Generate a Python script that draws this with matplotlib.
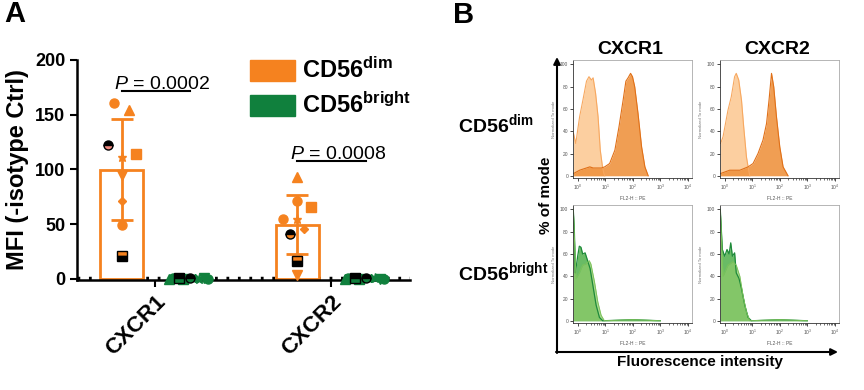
import numpy as np
import matplotlib
matplotlib.use("Agg")
import matplotlib.pyplot as plt
from matplotlib.patches import Patch

plt.rcParams['font.family'] = ['Liberation Sans', 'DejaVu Sans']
plt.rcParams['mathtext.fontset'] = 'custom'
plt.rcParams['mathtext.rm'] = 'Liberation Sans'
plt.rcParams['mathtext.bf'] = 'Liberation Sans:bold'
plt.rcParams['mathtext.it'] = 'Liberation Sans:italic'

# ── Panel A data (MFI minus isotype, one value per donor) ─────────────────────
receptors   = ['CXCR1', 'CXCR2']
dim_cxcr1   = [161, 154, 122, 114, 111, 95, 71, 49, 21]
dim_cxcr2   = [55, 93, 41, 66, 55, 4, 46, 71, 16]
brt_cxcr1   = [0.5, 0.2, 0.8, 0.3, 0.1, 0.4, 0.6, 0.2, 0.9]
brt_cxcr2   = [0.4, 0.3, 0.6, 0.2, 0.5, 0.1, 0.7, 0.3, 0.5]
p_values    = ['0.0002', '0.0008']
p_heights   = [172, 108]

# ── Panel B data (histograms, x in decades, y in % of mode) ───────────────────
dim1_iso_x = [-0.15, -0.07, 0.07, 0.19, 0.32, 0.41, 0.5, 0.56, 0.65, 0.74, 0.82, 0.9, 0.95, 0.98]
dim1_iso_y = [38, 29, 53, 68, 85, 89, 86, 88, 74, 53, 23, 8, 2, 0]
dim1_ab_x  = [-0.15, 0.07, 0.44, 0.56, 0.86, 0.98, 1.16, 1.35, 1.5, 1.65, 1.75, 1.83, 1.92, 1.99, 2.07, 2.19, 2.32, 2.44, 2.56]
dim1_ab_y  = [2, 5, 8, 7, 7, 8, 11, 23, 44, 68, 85, 88, 92, 89, 80, 56, 26, 8, 0]
dim2_iso_x = [-0.15, -0.06, 0.12, 0.24, 0.36, 0.42, 0.51, 0.61, 0.69, 0.79, 0.85, 0.91]
dim2_iso_y = [29, 35, 59, 71, 89, 92, 86, 68, 44, 17, 8, 0]
dim2_ab_x  = [-0.15, 0.18, 0.55, 0.85, 1.03, 1.21, 1.39, 1.52, 1.61, 1.7, 1.78, 1.88, 2.0, 2.12, 2.3]
dim2_ab_y  = [2, 5, 5, 8, 11, 20, 32, 47, 68, 92, 80, 53, 26, 8, 0]
brt1_iso_x = [-0.16, -0.06, 0.06, 0.18, 0.3, 0.42, 0.48, 0.61, 0.73, 0.85, 0.97, 2.0, 3.0]
brt1_iso_y = [100, 38, 43, 50, 51, 54, 51, 35, 17, 5, 0, 1, 0]
brt1_ab_x  = [-0.16, -0.12, -0.085, 0.0, 0.06, 0.12, 0.18, 0.27, 0.36, 0.45, 0.55, 0.67, 0.79, 0.91, 2.0, 3.0]
brt1_ab_y  = [100, 80, 43, 58, 67, 66, 60, 61, 54, 47, 32, 14, 3, 0, 1, 0]
brt2_iso_x = [-0.16, -0.06, 0.12, 0.3, 0.42, 0.55, 0.67, 0.79, 0.91, 2.0, 3.0]
brt2_iso_y = [100, 40, 50, 53, 50, 40, 22, 8, 0, 1, 0]
brt2_ab_x  = [-0.16, -0.085, 0.0, 0.085, 0.16, 0.22, 0.28, 0.36, 0.42, 0.52, 0.61, 0.73, 0.85, 0.97, 2.0, 3.0]
brt2_ab_y  = [100, 64, 58, 64, 60, 70, 58, 61, 43, 38, 29, 14, 3, 0, 1, 0]

orange = '#F5821F'
green  = '#10803D'

fig = plt.figure(figsize=(8.64, 3.9), dpi=100)

# ── Panel A ───────────────────────────────────────────────────────────────────
ax = fig.add_axes([77/864, 1 - 280/390, 333/864, 220/390])
x = np.arange(len(receptors))
dim_sets = [dim_cxcr1, dim_cxcr2]
brt_sets = [brt_cxcr1, brt_cxcr2]
dim_mean = [np.mean(v) for v in dim_sets]
dim_sd   = [np.std(v, ddof=1) for v in dim_sets]
brt_mean = [np.mean(v) for v in brt_sets]
off_dim, off_brt = -0.19, 0.2

ax.bar(x + off_dim, dim_mean, width=0.245, facecolor='white', edgecolor=orange, lw=2, zorder=2)
ax.bar(x + off_brt, brt_mean, width=0.18, facecolor='white', edgecolor=green, lw=2, zorder=2)
ax.errorbar(x + off_dim, dim_mean, yerr=dim_sd, fmt='none', ecolor=orange,
            elinewidth=2, capsize=8, capthick=2, zorder=3)

# donor markers: (marker, fillstyle)
donors = [('o', 'full'), ('^', 'full'), ('o', 'top'), ('s', 'full'), ('*', 'full'),
          ('v', 'full'), ('D', 'full'), ('o', 'full'), ('s', 'top')]
jit_dim = [[-0.04, 0.04, -0.075, 0.08, 0, 0, 0, 0, 0],
           [-0.08, 0, -0.04, 0.075, 0, 0, 0.035, 0, 0]]
jit_brt = [-0.1, -0.12, 0.0, -0.04, 0.05, 0.08, 0.03, 0.1, -0.065]
for i in range(len(receptors)):
    for j, (m, fs) in enumerate(donors):
        ms = 4.5 if m == 'D' else 6.5
        if fs == 'top':
            if m == 'o':
                kw = dict(markerfacecolor='black', markerfacecoloralt=orange if i else '#F08A80')
            else:
                kw = dict(markerfacecolor=orange, markerfacecoloralt='black')
            ax.plot(x[i] + off_dim + jit_dim[i][j], dim_sets[i][j], marker=m, ms=ms,
                    fillstyle='top', markeredgecolor='black', mew=1, zorder=4, **kw)
            ax.plot(x[i] + off_brt + jit_brt[j], brt_sets[i][j], marker=m, ms=ms,
                    fillstyle='top', markerfacecolor='black', markerfacecoloralt=green,
                    markeredgecolor='black', mew=1, zorder=5, clip_on=False)
        else:
            ax.plot(x[i] + off_dim + jit_dim[i][j], dim_sets[i][j], marker=m, ms=ms,
                    color=orange, mec=orange, zorder=4)
            ax.plot(x[i] + off_brt + jit_brt[j], brt_sets[i][j], marker=m, ms=ms,
                    color=green, mec=green, zorder=4, clip_on=False)

for i in range(len(receptors)):
    ax.plot([x[i] + off_dim, x[i] + off_brt], [p_heights[i]] * 2, color='black', lw=1.5)
    ax.text(x[i] + off_dim - 0.045, p_heights[i] + 1.5, r'$\mathit{P}$ = ' + p_values[i],
            fontsize=14, ha='left', va='baseline')

ax.plot(np.linspace(-0.443, 1.45, 2), [1.2, 1.2], color='black', ls=(0, (0.8, 2.5)), lw=2.5, zorder=1)
ax.set_xlim(-0.443, 1.45)
ax.set_ylim(-1, 200)
ax.set_yticks([0, 50, 100, 150, 200])
ax.set_xticks(x)
ax.set_xticklabels(receptors, rotation=45, ha='right', rotation_mode='anchor',
                   fontsize=16, fontweight='bold')
for t in ax.get_yticklabels():
    t.set_fontweight('bold'); t.set_fontsize(13)
ax.tick_params(length=5, width=1.5)
ax.set_ylabel('MFI (-isotype Ctrl)', fontsize=17, fontweight='bold', labelpad=4)
for s in ['top', 'right']:
    ax.spines[s].set_visible(False)
for s in ['left', 'bottom']:
    ax.spines[s].set_linewidth(1.8)

handles = [Patch(facecolor=orange, edgecolor=orange), Patch(facecolor=green, edgecolor=green)]
ax.legend(handles, [r'CD56$^{\mathbf{dim}}$', r'CD56$^{\mathbf{bright}}$'],
          loc='upper left', bbox_to_anchor=(0.52, 1.01), frameon=False,
          prop=dict(size=17, weight='bold'), handlelength=1.9, handleheight=1.0,
          handletextpad=0.3, labelspacing=0.38, borderpad=0, borderaxespad=0)

fig.text(4/864, 1 - 14/390, 'A', fontsize=21, fontweight='bold', va='center')

# ── Panel B ───────────────────────────────────────────────────────────────────
light_or, dark_or = '#FCCFA0', '#EF9440'
hists = [
    (573, 60, dim1_iso_x, dim1_iso_y, dim1_ab_x, dim1_ab_y, light_or, '#F7A860', dark_or, '#E07018'),
    (720, 60, dim2_iso_x, dim2_iso_y, dim2_ab_x, dim2_ab_y, light_or, '#F7A860', dark_or, '#E07018'),
    (573, 205, brt1_iso_x, brt1_iso_y, brt1_ab_x, brt1_ab_y, '#8CCB6A', '#7CC25A', '#4FAF4A', '#1E8A3A'),
    (720, 205, brt2_iso_x, brt2_iso_y, brt2_ab_x, brt2_ab_y, '#8CCB6A', '#7CC25A', '#4FAF4A', '#1E8A3A'),
]
minor = [k + np.log10(m) for k in range(4) for m in range(2, 10)]
for (px, py, ix, iy, bx, by, fc1, ec1, fc2, ec2) in hists:
    hx = fig.add_axes([px/864, 1 - (py + 118)/390, 119/864, 118/390])
    if fc1 == light_or:
        hx.fill_between(ix, iy, color=fc1, lw=0)
        hx.plot(ix, iy, color=ec1, lw=0.8)
        hx.fill_between(bx, by, color=fc2, alpha=0.9, lw=0)
        hx.plot(bx, by, color=ec2, lw=0.8)
    else:
        hx.fill_between(bx, by, color=fc2, alpha=0.85, lw=0)
        hx.plot(bx, by, color=ec2, lw=0.9)
        hx.fill_between(ix, iy, color=fc1, alpha=0.75, lw=0)
        hx.plot(ix, iy, color=ec1, lw=0.7)
    hx.set_xlim(-0.17, 4.15)
    hx.set_ylim(-2, 104)
    hx.set_xticks(range(5))
    hx.set_xticklabels([r'$10^{%d}$' % k for k in range(5)])
    hx.set_xticks(minor, minor=True)
    hx.set_yticks([0, 20, 40, 60, 80, 100])
    hx.tick_params(labelsize=3.5, labelcolor='#555555', length=2, width=0.5, pad=1.5)
    hx.tick_params(which='minor', length=1.2, width=0.4)
    hx.set_xlabel('FL2-H :: PE', fontsize=3.5, color='#555555', labelpad=3)
    hx.set_ylabel('Normalized To mode', fontsize=3, color='#777777', labelpad=3)
    for s in hx.spines.values():
        s.set_color('#AAAAAA'); s.set_linewidth(0.6)
    hx.spines['left'].set_color('#333333')
    hx.spines['bottom'].set_color('#333333')

fig.text(453/864, 1 - 15/390, 'B', fontsize=21, fontweight='bold', va='center')
fig.text(630/864, 1 - 50/390, 'CXCR1', fontsize=14, fontweight='bold', ha='center', va='center')
fig.text(777/864, 1 - 50/390, 'CXCR2', fontsize=14, fontweight='bold', ha='center', va='center')
fig.text(458/864, 1 - 124/390, r'CD56$^{\mathbf{dim}}$', fontsize=14, fontweight='bold', va='center')
fig.text(458/864, 1 - 272/390, r'CD56$^{\mathbf{bright}}$', fontsize=14, fontweight='bold', va='center')
fig.text(546/864, 1 - 195/390, '% of mode', fontsize=11, fontweight='bold', rotation=90,
         ha='center', va='center')
fig.text(700/864, 1 - 362/390, 'Fluorescence intensity', fontsize=11, fontweight='bold',
         ha='center', va='center')

ov = fig.add_axes([0, 0, 1, 1], facecolor='none')
ov.set_xlim(0, 864); ov.set_ylim(390, 0); ov.axis('off')
ov.annotate('', xy=(557, 57), xytext=(557, 353),
            arrowprops=dict(arrowstyle='-|>', lw=1.5, color='black', mutation_scale=10, shrinkA=0, shrinkB=0))
ov.annotate('', xy=(838, 352), xytext=(556, 352),
            arrowprops=dict(arrowstyle='-|>', lw=1.5, color='black', mutation_scale=10, shrinkA=0, shrinkB=0))

fig.savefig('out.png', dpi=100)
